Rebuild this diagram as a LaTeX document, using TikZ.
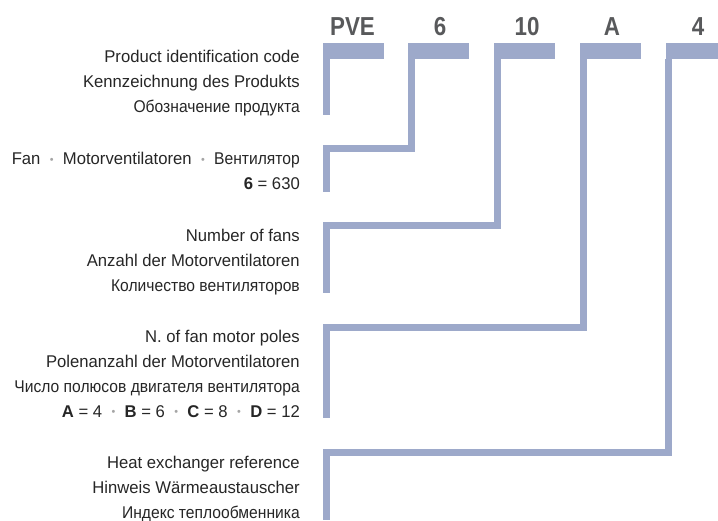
\documentclass[tikz,border=0pt]{standalone}
\usepackage{fontspec}
\setmainfont{Liberation Sans}[FakeStretch=0.98]
\newfontfamily\codefont{Liberation Sans}[FakeStretch=0.86]
\newfontfamily\rufont{Liberation Sans}[FakeStretch=0.92]
\definecolor{barblue}{RGB}{157,169,202}
\definecolor{codegray}{RGB}{88,89,91}
\definecolor{dotgray}{RGB}{165,165,165}
\newcommand{\dotsep}{\hspace{0.55em}{\color{dotgray}\fontsize{11}{11}\selectfont\raisebox{0.12em}{•}}\hspace{0.55em}}
\begin{document}
\begin{tikzpicture}[x=1pt,y=-1pt]
    \tikzstyle{code}=[font=\codefont\bfseries\fontsize{26}{26}\selectfont,text=codegray,inner sep=0]
    \tikzstyle{bar}=[fill=barblue,minimum width=61pt,minimum height=16pt,inner sep=0,anchor=north west]
    \tikzstyle{desc}=[align=right,anchor=base east,inner sep=0,text=black!85,font=\fontsize{17}{25}\selectfont]
    \tikzstyle{link}=[draw=barblue,line width=7pt]

    \useasboundingbox (0,0) rectangle (718,520);

    \node[code] (pve) at (352.5,26.5) {PVE};
    \node[code] (six) at (440,26.5) {6};
    \node[code] (ten) at (527,26.5) {10};
    \node[code] (a) at (612,26.5) {A};
    \node[code] (four) at (698,26.5) {4};

    \node[bar] (pvebar) at (322.5,43) {};
    \node[bar] (sixbar) at (408.2,43) {};
    \node[bar] (tenbar) at (494,43) {};
    \node[bar] (abar) at (579.7,43) {};
    \node[bar,minimum width=53pt] (fourbar) at (665.4,43) {};

    \node[desc] (prod) at (300,112.5) {Product identification code\\Kennzeichnung des Produkts\\{\rufont Обозначение продукта}};
    \node[desc] (fantext) at (300,189.5) {Fan\dotsep Motorventilatoren\dotsep {\rufont Вентилятор}\\\textbf{6} = 630};
    \node[desc] (numtext) at (300,291) {Number of fans\\Anzahl der Motorventilatoren\\{\rufont Количество вентиляторов}};
    \node[desc] (polestext) at (300,417) {N. of fan motor poles\\Polenanzahl der Motorventilatoren\\{\rufont Число полюсов двигателя вентилятора}\\\textbf{A} = 4\dotsep\textbf{B} = 6\dotsep\textbf{C} = 8\dotsep\textbf{D} = 12};
    \node[desc] (heattext) at (300,518.3) {Heat exchanger reference\\Hinweis Wärmeaustauscher\\{\rufont Индекс теплообменника}};

    \coordinate (prodend) at (326,115);
    \coordinate (fan) at (326,148.7);
    \coordinate (fanend) at (326,191.7);
    \coordinate (num) at (326,225.8);
    \coordinate (numend) at (326,293);
    \coordinate (poles) at (326,327);
    \coordinate (polesend) at (326,418);
    \coordinate (heat) at (326,452.7);
    \coordinate (heatend) at (326,520);

    \draw[link] ([xshift=3.5pt]pvebar.south west) -- (prodend);
    \draw[link] ([xshift=3.5pt]sixbar.south west) |- (fan) -- (fanend);
    \draw[link] ([xshift=3.5pt]tenbar.south west) |- (num) -- (numend);
    \draw[link] ([xshift=3.5pt]abar.south west) |- (poles) -- (polesend);
    \draw[link] ([xshift=3.5pt]fourbar.south west) |- (heat) -- (heatend);
\end{tikzpicture}
\end{document}
